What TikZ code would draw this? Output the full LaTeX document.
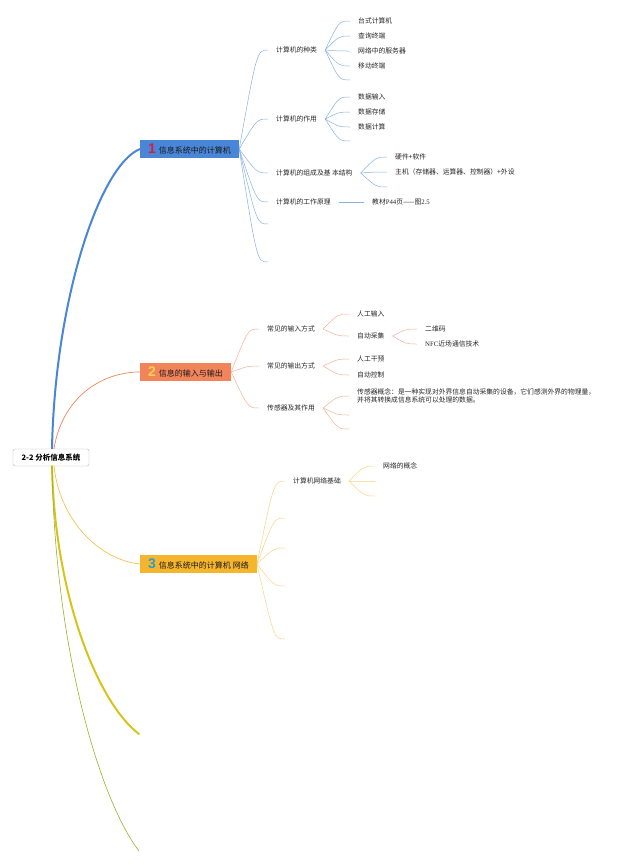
\documentclass[tikz,border=0pt]{standalone}
\usepackage{fontspec}
\usepackage{tikz}
\setmainfont{Noto Sans CJK SC}
\newfontfamily\latfont{Liberation Serif}
\newfontfamily\numfont{Liberation Sans}
\definecolor{map-blue}{HTML}{4A86D8}
\definecolor{map-orange}{HTML}{F2845C}
\definecolor{map-amber}{HTML}{F5B62E}
\definecolor{map-olive}{HTML}{D6C31C}
\definecolor{map-green}{HTML}{9CB02E}
\definecolor{num-red}{HTML}{D81E3A}
\definecolor{num-yellow}{HTML}{F9D34C}
\definecolor{num-teal}{HTML}{2A9DCB}

\begin{document}
\begin{tikzpicture}[x=1pt, y=-1pt,
		topic/.style={anchor=west, inner xsep=8pt, inner ysep=1pt, font=\fontsize{6.8}{8}\selectfont, text=black!85},
		branch/.style={anchor=west, minimum height=18pt, inner xsep=8pt, inner ysep=0pt, font=\fontsize{8}{9}\selectfont, text=black!90},
		fan/.style={to path={.. controls ([xshift=-11pt]\tikztotarget) .. (\tikztotarget)}},
		bluefan/.style={fan, draw=map-blue!65, line width=0.5pt},
		orangefan/.style={fan, draw=map-orange!65, line width=0.5pt},
		amberfan/.style={fan, draw=map-amber!60, line width=0.5pt}]
		\useasboundingbox (0,0) rectangle (640,865);
		
		% Draw the root topic
		\node (root) [draw=gray!60, rounded corners=2pt, fill=white, minimum width=76pt, minimum height=17pt, font=\fontsize{7.5}{9}\selectfont\bfseries] at (51,457.5) {2-2 分析信息系统};
		
		% Draw the main branches
		\node (b1) [branch, fill=map-blue] at (140,149) {{\numfont\bfseries\fontsize{14}{14}\selectfont\color{num-red}1}\hspace{3pt}信息系统中的计算机};
		\node (b2) [branch, fill=map-orange] at (140,372) {{\numfont\bfseries\fontsize{14}{14}\selectfont\color{num-yellow}2}\hspace{3pt}信息的输入与输出};
		\node (b3) [branch, fill=map-amber] at (140,564) {{\numfont\bfseries\fontsize{14}{14}\selectfont\color{num-teal}3}\hspace{3pt}信息系统中的计算机 网络};
		\coordinate (b4) at (139,734);
		\coordinate (b5) at (139,851);
		
		% Connect the root with the branches
		\draw[map-blue, line width=2pt] ([xshift=1pt]root.north) .. controls +(3,-150) and +(-40,16) .. (b1.west);
		\draw[map-orange, line width=0.7pt] ([xshift=3pt]root.north) .. controls +(8,-50) and +(-40,0) .. (b2.west);
		\draw[map-amber!85, line width=0.7pt] ([xshift=3pt]root.south) .. controls +(6,55) and +(-40,-4) .. (b3.west);
		\draw[map-olive, line width=2pt, line cap=round] ([xshift=1pt]root.south) .. controls +(3,134) and +(-39,-29) .. (b4);
		\draw[map-green, line width=0.6pt] ([xshift=1pt]root.south) .. controls +(3,184) and +(-39,-51) .. (b5);
		
		% Draw the topics of branch 1
		\node (kinds) [topic] at (268,50) {计算机的种类};
		\node (roles) [topic] at (268,119) {计算机的作用};
		\node (parts) [topic] at (268,173) {计算机的组成及基 本结构};
		\node (works) [topic] at (268,202) {计算机的工作原理};
		\coordinate (b1e1) at (268,224);
		\coordinate (b1e2) at (268,262);
		\foreach \t in {kinds,roles,parts,works}
			\draw[bluefan] (b1.east) to (\t.west);
		\foreach \t in {b1e1,b1e2}
			\draw[bluefan] (b1.east) to (\t);
		
		% Draw the leaves of branch 1
		\node (desk) [topic] at (350,21) {台式计算机};
		\node (query) [topic] at (350,36) {查询终端};
		\node (server) [topic] at (350,51) {网络中的服务器};
		\node (mobile) [topic] at (350,66) {移动终端};
		\coordinate (kinds5) at (350,80);
		\foreach \t in {desk,query,server,mobile}
			\draw[bluefan] (kinds.east) to (\t.west);
		\draw[bluefan] (kinds.east) to (kinds5);
		
		\node (input) [topic] at (350,97) {数据输入};
		\node (store) [topic] at (350,112) {数据存储};
		\node (calc) [topic] at (350,127) {数据计算};
		\coordinate (roles4) at (350,141);
		\foreach \t in {input,store,calc}
			\draw[bluefan] (roles.east) to (\t.west);
		\draw[bluefan] (roles.east) to (roles4);
		
		\node (hwsw) [topic] at (387,157) {硬件+软件};
		\node (host) [topic] at (387,172) {主机（存储器、运算器、控制器）+外设};
		\coordinate (parts3) at (387,187);
		\foreach \t in {hwsw,host}
			\draw[bluefan] (parts.east) to (\t.west);
		\draw[bluefan] (parts.east) to (parts3);
		
		\node (book) [topic] at (364,202) {教材{\latfont P44}页——图{\latfont 2.5}};
		\draw[map-blue!65, line width=0.5pt] (works.east) -- (book.west);
		
		% Draw the topics of branch 2
		\node (inways) [topic] at (259,329) {常见的输入方式};
		\node (outways) [topic] at (259,366) {常见的输出方式};
		\node (sensor) [topic] at (259,408) {传感器及其作用};
		\foreach \t in {inways,outways,sensor}
			\draw[orangefan] (b2.east) to (\t.west);
		
		% Draw the leaves of branch 2
		\node (manual) [topic] at (349,314) {人工输入};
		\node (auto) [topic] at (349,336) {自动采集};
		\foreach \t in {manual,auto}
			\draw[orangefan] (inways.east) to (\t.west);
		\node (qrcode) [topic] at (417,329) {二维码};
		\node (nfc) [topic] at (417,344) {{\latfont NFC}近场通信技术};
		\foreach \t in {qrcode,nfc}
			\draw[orangefan] (auto.east) to (\t.west);
		
		\node (intervene) [topic] at (349,359) {人工干预};
		\node (control) [topic] at (349,375) {自动控制};
		\foreach \t in {intervene,control}
			\draw[orangefan] (outways.east) to (\t.west);
		
		\node (concept) [topic, align=left] at (349,396) {传感器概念：是一种实现对外界信息自动采集的设备，它们感测外界的物理量，\\并将其转换成信息系统可以处理的数据。};
		\coordinate (sensor2) at (349,415);
		\coordinate (sensor3) at (349,429);
		\draw[orangefan] (sensor.east) to (concept.west);
		\foreach \t in {sensor2,sensor3}
			\draw[orangefan] (sensor.east) to (\t);
		
		% Draw the topics of branch 3
		\node (netbase) [topic] at (285,481) {计算机网络基础};
		\foreach \y [count=\i] in {518,548,586,639}
			\coordinate (b3e\i) at (285,\y);
		\draw[amberfan] (b3.east) to (netbase.west);
		\foreach \i in {1,...,4}
			\draw[amberfan] (b3.east) to (b3e\i);
		
		% Draw the leaves of branch 3
		\node (netidea) [topic] at (375,466) {网络的概念};
		\coordinate (net2) at (375,481);
		\coordinate (net3) at (375,496);
		\draw[amberfan] (netbase.east) to (netidea.west);
		\foreach \t in {net2,net3}
			\draw[amberfan] (netbase.east) to (\t);
\end{tikzpicture}
\end{document}
